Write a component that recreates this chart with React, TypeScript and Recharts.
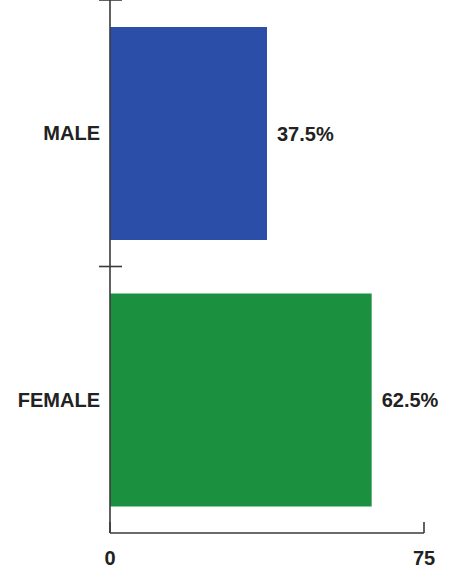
import React from "react";
import { BarChart, Bar, XAxis, YAxis, Cell, LabelList } from "recharts";

const categories = ["MALE", "FEMALE"];
const shares = [37.5, 62.5];
const barColors = ["#2b4fa8", "#1b9140"];
const xTicks = [0, 75];

const data = categories.map((name, i) => ({ name, value: shares[i] }));

const FONT = "'Liberation Sans', Arial, sans-serif";
const AXIS = "#3a3a3a";

const CatTick = (props: any) => {
  const { x, y, payload, index } = props;
  const half = payload && typeof payload.offset === "number" ? payload.offset : 0;
  const isLast = index === categories.length - 1;
  return (
    <g>
      {half > 0 && (
        <line x1={x - 11} x2={x + 12} y1={y - half} y2={y - half} stroke={AXIS} strokeWidth={1.6} />
      )}
      {half > 0 && isLast && false && (
        <line x1={x - 11} x2={x + 12} y1={y + half} y2={y + half} stroke={AXIS} strokeWidth={1.6} />
      )}
      <text
        x={x - 10}
        y={y}
        dy="0.355em"
        textAnchor="end"
        fontFamily={FONT}
        fontWeight="bold"
        fontSize={20}
        fill="#222"
      >
        {payload.value}
      </text>
    </g>
  );
};

const XTick = (props: any) => {
  const { x, y, payload } = props;
  return (
    <g>
      <line x1={x} x2={x} y1={y - 11} y2={y} stroke={AXIS} strokeWidth={1.6} />
      <text x={x} y={y + 32} textAnchor="middle" fontFamily={FONT} fontWeight="bold" fontSize={20} fill="#222">
        {payload.value}
      </text>
    </g>
  );
};

export default function App() {
  return (
    <div style={{ position: "absolute", left: 0, top: 0, width: 455, height: 568, background: "#fff" }}>
      <BarChart
        width={455}
        height={568}
        data={data}
        layout="vertical"
        margin={{ top: 0, right: 31, bottom: 0, left: 0 }}
        barCategoryGap="10%"
      >
        <XAxis
          type="number"
          domain={[0, 75]}
          ticks={xTicks}
          height={35}
          axisLine={{ stroke: AXIS, strokeWidth: 1.6 }}
          tickLine={false}
          tickSize={0}
          tickMargin={0}
          tick={<XTick />}
          interval={0}
        />
        <YAxis
          type="category"
          dataKey="name"
          width={110}
          axisLine={{ stroke: AXIS, strokeWidth: 1.6 }}
          tickLine={false}
          tickSize={0}
          tickMargin={0}
          tick={<CatTick />}
          interval={0}
        />
        <Bar dataKey="value" barSize={213} isAnimationActive={false}>
          {data.map((d, i) => (
            <Cell key={d.name} fill={barColors[i]} />
          ))}
          <LabelList
            dataKey="value"
            position="right"
            offset={10}
            formatter={(v: any) => `${v}%`}
            style={{ fontFamily: FONT, fontWeight: "bold", fontSize: 20, fill: "#222" }}
          />
        </Bar>
      </BarChart>
    </div>
  );
}
